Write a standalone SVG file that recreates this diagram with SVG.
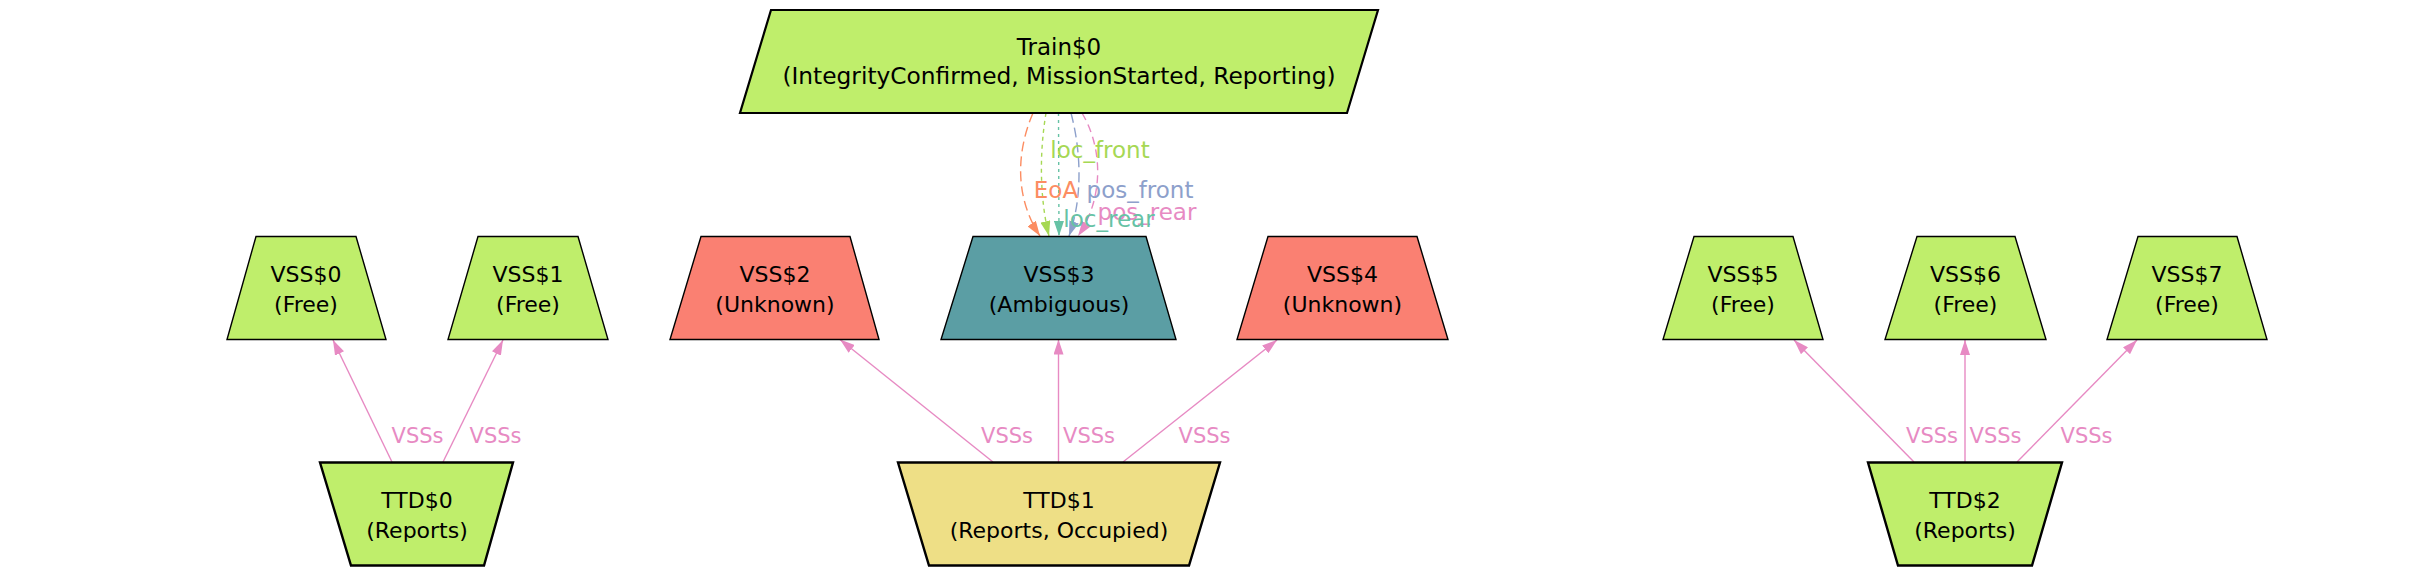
<svg xmlns="http://www.w3.org/2000/svg" width="2432" height="575" viewBox="0 0 2432 575">
<style>
  .nt { font-family: "DejaVu Sans", "Liberation Sans", sans-serif; font-size: 22px; fill: #000; text-anchor: middle; }
  .el { font-family: "DejaVu Sans", "Liberation Sans", sans-serif; text-anchor: middle; }
  .vss { stroke: #000; stroke-width: 1.4; }
  .ttd { stroke: #000; stroke-width: 2.4; }
  .train { stroke: #000; stroke-width: 2.2; }
  .green { fill: #bfee6b; }
  .salmon { fill: #fa8072; }
  .teal { fill: #5b9ea4; }
  .khaki { fill: #eedf86; }
  .vssE { fill: none; stroke: #e78ac3; stroke-width: 1.4; marker-end: url(#apink); }
  .top { fill: none; stroke-width: 1.4; }
</style>
<defs>
  <marker id="apink" markerUnits="userSpaceOnUse" markerWidth="15" markerHeight="10" refX="15" refY="5" orient="auto"><path d="M0,0 L15,5 L0,10 z" fill="#e78ac3"/></marker>
  <marker id="aorange" markerUnits="userSpaceOnUse" markerWidth="15" markerHeight="10" refX="15" refY="5" orient="auto"><path d="M0,0 L15,5 L0,10 z" fill="#fc8d62"/></marker>
  <marker id="agreen" markerUnits="userSpaceOnUse" markerWidth="15" markerHeight="10" refX="15" refY="5" orient="auto"><path d="M0,0 L15,5 L0,10 z" fill="#a6d854"/></marker>
  <marker id="ateal" markerUnits="userSpaceOnUse" markerWidth="15" markerHeight="10" refX="15" refY="5" orient="auto"><path d="M0,0 L15,5 L0,10 z" fill="#66c2a5"/></marker>
  <marker id="ablue" markerUnits="userSpaceOnUse" markerWidth="15" markerHeight="10" refX="15" refY="5" orient="auto"><path d="M0,0 L15,5 L0,10 z" fill="#8da0cb"/></marker>
</defs>
<rect width="2432" height="575" fill="#fff"/>

<g id="connectors">
  <!-- Train to VSS3 -->
  <path class="top" d="M1033,113 C1015,155 1016,200 1040,236" stroke="#fc8d62" stroke-dasharray="10,5" marker-end="url(#aorange)"/>
  <path class="top" d="M1046,113 C1039,155 1040,200 1049,236" stroke="#a6d854" stroke-dasharray="4,4" marker-end="url(#agreen)"/>
  <path class="top" d="M1058.5,113 L1059,236" stroke="#66c2a5" stroke-dasharray="3,4" marker-end="url(#ateal)"/>
  <path class="top" d="M1071,113 C1082,155 1082,200 1069,236" stroke="#8da0cb" stroke-dasharray="10,5" marker-end="url(#ablue)"/>
  <path class="top" d="M1082,113 C1104,150 1103,200 1078,236" stroke="#e78ac3" stroke-dasharray="8,5" marker-end="url(#apink)"/>
  <text class="el" x="1100" y="158" font-size="23" fill="#a6d854">loc_front</text>
  <text class="el" x="1056" y="198" font-size="23" fill="#fc8d62">EoA</text>
  <text class="el" x="1140" y="198" font-size="23" fill="#8da0cb">pos_front</text>
  <text class="el" x="1147" y="220" font-size="23" fill="#e78ac3">pos_rear</text>
  <text class="el" x="1109" y="227" font-size="23" fill="#66c2a5">loc_rear</text>

  <!-- TTD0 -->
  <path class="vssE" d="M392,462 L333,340"/>
  <path class="vssE" d="M443,462 L503,340"/>
  <!-- TTD1 -->
  <path class="vssE" d="M993,462 L840,339.5"/>
  <path class="vssE" d="M1058.5,462 L1058.5,339.5"/>
  <path class="vssE" d="M1123,462 L1277,340"/>
  <!-- TTD2 -->
  <path class="vssE" d="M1914,462 L1794,340"/>
  <path class="vssE" d="M1965,462 L1965,340"/>
  <path class="vssE" d="M2017,462 L2137,340"/>

  <g fill="#e78ac3" font-size="21" class="el">
    <text x="417.5" y="443">VSSs</text>
    <text x="495.5" y="443">VSSs</text>
    <text x="1007" y="443">VSSs</text>
    <text x="1089" y="443">VSSs</text>
    <text x="1204.5" y="443">VSSs</text>
    <text x="1932" y="443">VSSs</text>
    <text x="1995.5" y="443">VSSs</text>
    <text x="2086.5" y="443">VSSs</text>
  </g>
</g>

<g id="Train0">
  <polygon class="train green" points="771,10 1378,10 1347,113 740,113"/>
  <text class="nt" x="1059" y="55" font-size="23" style="font-size:23px">Train$0</text>
  <text class="nt" x="1059" y="84" style="font-size:23.3px">(IntegrityConfirmed, MissionStarted, Reporting)</text>
</g>

<g id="VSS0">
  <polygon class="vss green" points="256,236.5 356,236.5 386,339.5 227,339.5"/>
  <text class="nt" x="306" y="282">VSS$0</text>
  <text class="nt" x="306" y="312">(Free)</text>
</g>
<g id="VSS1">
  <polygon class="vss green" points="478,236.5 578,236.5 608,339.5 448,339.5"/>
  <text class="nt" x="528" y="282">VSS$1</text>
  <text class="nt" x="528" y="312">(Free)</text>
</g>
<g id="VSS2">
  <polygon class="vss salmon" points="701,236.5 850,236.5 879,339.5 670,339.5"/>
  <text class="nt" x="775" y="282">VSS$2</text>
  <text class="nt" x="775" y="312">(Unknown)</text>
</g>
<g id="VSS3">
  <polygon class="vss teal" points="973,236.5 1146,236.5 1176,339.5 941,339.5"/>
  <text class="nt" x="1059" y="282">VSS$3</text>
  <text class="nt" x="1059" y="312">(Ambiguous)</text>
</g>
<g id="VSS4">
  <polygon class="vss salmon" points="1268,236.5 1417,236.5 1448,339.5 1237,339.5"/>
  <text class="nt" x="1342.5" y="282">VSS$4</text>
  <text class="nt" x="1342.5" y="312">(Unknown)</text>
</g>
<g id="VSS5">
  <polygon class="vss green" points="1694,236.5 1793,236.5 1823,339.5 1663,339.5"/>
  <text class="nt" x="1743" y="282">VSS$5</text>
  <text class="nt" x="1743" y="312">(Free)</text>
</g>
<g id="VSS6">
  <polygon class="vss green" points="1917,236.5 2015,236.5 2046,339.5 1885,339.5"/>
  <text class="nt" x="1965.5" y="282">VSS$6</text>
  <text class="nt" x="1965.5" y="312">(Free)</text>
</g>
<g id="VSS7">
  <polygon class="vss green" points="2138,236.5 2237,236.5 2267,339.5 2107,339.5"/>
  <text class="nt" x="2187" y="282">VSS$7</text>
  <text class="nt" x="2187" y="312">(Free)</text>
</g>

<g id="TTD0">
  <polygon class="ttd green" points="320,462.5 513,462.5 484,565.5 351,565.5"/>
  <text class="nt" x="417" y="507.5">TTD$0</text>
  <text class="nt" x="417" y="538">(Reports)</text>
</g>
<g id="TTD1">
  <polygon class="ttd khaki" points="898,462.5 1220,462.5 1189,565.5 929,565.5"/>
  <text class="nt" x="1059" y="507.5">TTD$1</text>
  <text class="nt" x="1059" y="538">(Reports, Occupied)</text>
</g>
<g id="TTD2">
  <polygon class="ttd green" points="1868,462.5 2062,462.5 2032,565.5 1898,565.5"/>
  <text class="nt" x="1965" y="507.5">TTD$2</text>
  <text class="nt" x="1965" y="538">(Reports)</text>
</g>
</svg>
